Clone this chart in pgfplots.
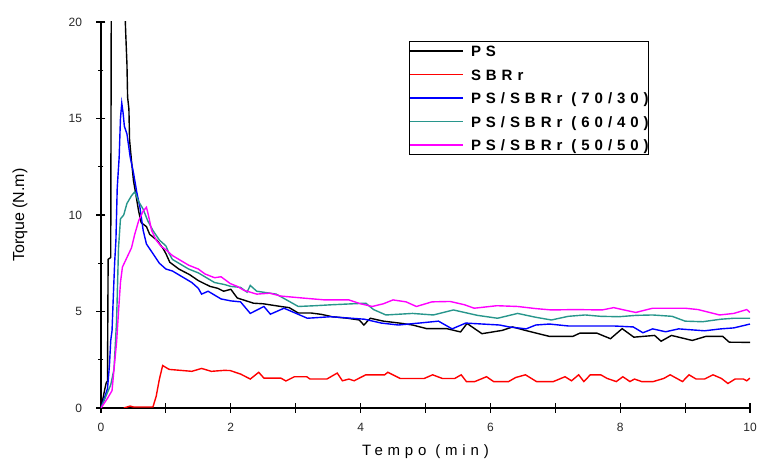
\documentclass[border=0pt]{standalone}
\usepackage{fontspec}
\setmainfont{Liberation Sans}
\newfontfamily\lsfont[LetterSpace=32]{Liberation Sans}
\newfontfamily\legfont[LetterSpace=33]{Liberation Sans}
\usepackage{pgfplots}
\pgfplotsset{compat=1.18}
\definecolor{tealc}{RGB}{40,150,140}
\definecolor{magc}{RGB}{255,0,255}
\definecolor{tickgray}{RGB}{40,40,40}
\begin{document}
\begin{tikzpicture}
\begin{axis}[
  at={(0,0)}, anchor=south west,
  scale only axis, width=649bp, height=386bp,
  xmin=0, xmax=10, ymin=0, ymax=20,
  clip mode=individual,
  axis lines=left,
  axis line style={-, line width=1.4bp, black},
  xmajorticks=true, ymajorticks=true,
  major tick length=-9bp, minor tick length=-5bp,
  every tick/.style={black, line width=1.2bp},
  xtick={0,1,...,10},
  xticklabels={0,,2,,4,,6,,8,,10},
  ytick={0,5,10,15,20},
  yticklabels={0,5,10,15,20},
  minor ytick={2.5,7.5,12.5,17.5},
  ticklabel style={font=\fontsize{12bp}{14bp}\selectfont, text=tickgray},
  xticklabel style={yshift=-16bp},
  yticklabel style={xshift=-20bp},
  xlabel={\lsfont Tempo (min)},
  ylabel={Torque (N.m)},
  xlabel style={at={(axis description cs:0.5,-0.114)}, anchor=center, font=\fontsize{15bp}{18bp}\selectfont},
  ylabel style={at={(axis description cs:-0.1248,0.5)}, anchor=center, font=\fontsize{16bp}{19bp}\selectfont},
  legend cell align=left,
  legend style={at={(axis description cs:0.4746,0.951)}, anchor=north west,
    font=\fontsize{15bp}{17bp}\selectfont\legfont\bfseries,
    draw=black, line width=1.2bp, inner xsep=0pt, inner ysep=4bp,
    nodes={inner xsep=0pt, inner ysep=0pt, text height=11bp, text depth=0bp},
    row sep=12.5bp, column sep=7bp},
  legend image code/.code={\draw[#1, line width=1.4bp] (0bp,0bp) -- (53bp,0bp);},
  every axis plot/.append style={line width=1.4bp},
]
% PS
\addplot[black] coordinates {
(0,0) (0.03,0.5) (0.06,1.0) (0.08,1.3) (0.10,1.4) (0.11,7.7) (0.15,7.8) (0.16,24) (0.25,30) (0.36,24)
(0.37,20.5) (0.38,19.5) (0.40,17.8) (0.41,16.1) (0.43,15.5) (0.44,13.9) (0.47,12.8) (0.50,11.8)
(0.54,11.0) (0.58,10.2) (0.62,9.6) (0.70,9.4) (0.75,9.0) (0.86,8.7) (0.95,8.3) (1.00,8.0) (1.06,7.55)
(1.20,7.2) (1.37,6.9) (1.50,6.6) (1.68,6.3) (1.80,6.2) (1.89,6.05) (2.00,6.15) (2.10,5.7) (2.35,5.43)
(2.50,5.4) (2.77,5.26) (2.90,5.2) (3.04,4.92) (3.24,4.92) (3.40,4.85) (3.56,4.73) (3.80,4.65) (3.98,4.56) (4.05,4.3)
(4.15,4.65) (4.35,4.5) (4.60,4.4) (4.80,4.3) (5.02,4.11) (5.33,4.11) (5.54,3.94) (5.64,4.38)
(5.87,3.85) (6.18,4.02) (6.34,4.2) (6.54,4.02) (6.91,3.71) (7.27,3.71) (7.38,3.88) (7.64,3.88)
(7.85,3.59) (8.03,4.11) (8.21,3.67) (8.53,3.76) (8.63,3.46) (8.79,3.76) (9.11,3.5) (9.32,3.71)
(9.58,3.71) (9.68,3.41) (10.0,3.4)
};
\addlegendentry{PS}
% SBRr
\addplot[red] coordinates {
(0.35,0) (0.45,0.1) (0.50,0.05) (0.80,0.05) (0.85,0.6) (0.90,1.5) (0.95,2.2) (1.05,2.0) (1.40,1.9)
(1.55,2.05) (1.70,1.9) (1.90,1.95) (1.99,1.94) (2.15,1.76) (2.30,1.5) (2.43,1.85) (2.51,1.55) (2.77,1.55)
(2.85,1.4) (2.98,1.62) (3.17,1.62) (3.22,1.5) (3.48,1.5) (3.64,1.81) (3.72,1.41) (3.82,1.5) (3.90,1.41)
(4.08,1.72) (4.37,1.72) (4.42,1.85) (4.61,1.53) (4.98,1.53) (5.11,1.72) (5.26,1.53) (5.45,1.53)
(5.55,1.72) (5.63,1.37) (5.76,1.37) (5.94,1.62) (6.05,1.37) (6.28,1.37) (6.39,1.58) (6.54,1.72)
(6.71,1.37) (6.97,1.37) (7.15,1.62) (7.25,1.41) (7.36,1.72) (7.44,1.37) (7.54,1.72) (7.70,1.72)
(7.80,1.53) (7.94,1.37) (8.04,1.62) (8.15,1.37) (8.22,1.5) (8.33,1.37) (8.51,1.37) (8.67,1.53)
(8.77,1.72) (8.96,1.37) (9.06,1.72) (9.17,1.5) (9.30,1.5) (9.43,1.72) (9.56,1.53) (9.66,1.27)
(9.77,1.5) (9.90,1.5) (9.95,1.41) (10.0,1.55)
};
\addlegendentry{SBRr}
% 70/30
\addplot[blue] coordinates {
(0,0) (0.05,0.5) (0.10,1.0) (0.13,2.2) (0.15,3.5) (0.17,4.0) (0.19,5.8) (0.21,7.5) (0.23,8.7)
(0.25,11.4) (0.28,13.0) (0.30,15.0) (0.32,15.8) (0.34,15.3) (0.36,14.6) (0.40,14.2) (0.45,13.0)
(0.50,12.2) (0.55,11.2) (0.60,10.4) (0.65,9.2) (0.70,8.5) (0.80,8.0) (0.90,7.5) (1.0,7.2) (1.1,7.1)
(1.2,6.9) (1.3,6.7) (1.4,6.5) (1.5,6.2) (1.55,5.9) (1.65,6.05) (1.75,5.85) (1.85,5.65) (2.0,5.55)
(2.15,5.5) (2.30,4.9) (2.51,5.26) (2.61,4.86) (2.82,5.17) (3.18,4.65) (3.54,4.73) (4.06,4.6)
(4.32,4.4) (4.58,4.3) (4.90,4.4) (5.20,4.5) (5.41,4.1) (5.62,4.4) (6.14,4.3) (6.29,4.2) (6.55,4.1)
(6.70,4.3) (6.91,4.35) (7.20,4.25) (7.50,4.25) (7.90,4.25) (8.20,4.2) (8.35,3.9) (8.50,4.1)
(8.70,3.95) (8.90,4.1) (9.10,4.05) (9.30,4.0) (9.55,4.1) (9.75,4.15) (10.0,4.35)
};
\addlegendentry{PS/SBRr (70/30)}
% 60/40
\addplot[tealc] coordinates {
(0,0) (0.10,0.8) (0.15,1.2) (0.20,2.0) (0.24,4.5) (0.27,8.3) (0.30,9.8) (0.35,10.0) (0.40,10.6)
(0.47,11.0) (0.52,11.2) (0.58,10.7) (0.65,10.3) (0.72,9.7) (0.80,9.2) (0.90,8.7) (1.0,8.4) (1.05,8.0)
(1.1,7.7) (1.2,7.5) (1.35,7.2) (1.5,7.0) (1.6,6.8) (1.75,6.5) (1.9,6.4) (2.0,6.3) (2.15,6.25)
(2.25,6.0) (2.30,6.35) (2.40,6.05) (2.70,5.9) (3.04,5.26) (3.30,5.3) (3.56,5.35) (4.08,5.43)
(4.20,5.1) (4.39,4.82) (4.80,4.9) (5.12,4.82) (5.43,5.08) (5.80,4.8) (6.11,4.65) (6.42,4.9)
(6.70,4.7) (6.94,4.56) (7.20,4.75) (7.46,4.82) (7.70,4.75) (7.98,4.73) (8.25,4.8) (8.50,4.82)
(8.80,4.75) (9.00,4.5) (9.27,4.47) (9.55,4.6) (9.75,4.65) (10.0,4.65)
};
\addlegendentry{PS/SBRr (60/40)}
% 50/50
\addplot[magc] coordinates {
(0,0) (0.10,0.5) (0.17,0.9) (0.20,2.0) (0.24,3.4) (0.27,5.0) (0.30,6.5) (0.33,7.3) (0.40,7.8)
(0.47,8.3) (0.52,9.0) (0.58,9.7) (0.65,10.2) (0.70,10.4) (0.73,10.0) (0.78,9.2) (0.85,8.7) (0.92,8.4)
(1.0,8.2) (1.1,7.9) (1.2,7.7) (1.35,7.4) (1.5,7.2) (1.6,6.95) (1.75,6.75) (1.85,6.8) (1.99,6.45)
(2.1,6.3) (2.2,6.1) (2.4,5.9) (2.6,5.95) (2.77,5.8) (3.1,5.7) (3.45,5.6) (3.82,5.6) (4.00,5.4)
(4.18,5.26) (4.35,5.4) (4.50,5.6) (4.70,5.5) (4.86,5.26) (5.10,5.5) (5.38,5.52) (5.60,5.35)
(5.75,5.17) (6.10,5.3) (6.42,5.26) (6.70,5.15) (6.94,5.08) (7.30,5.1) (7.72,5.08) (7.90,5.2)
(8.10,5.05) (8.24,4.95) (8.50,5.17) (9.00,5.17) (9.20,5.1) (9.53,4.82) (9.75,4.9) (9.95,5.1) (10.0,4.95)
};
\addlegendentry{PS/SBRr (50/50)}
\end{axis}
\pgfresetboundingbox
\path (-101bp,-55bp) rectangle (660bp,408bp);
\end{tikzpicture}
\end{document}
